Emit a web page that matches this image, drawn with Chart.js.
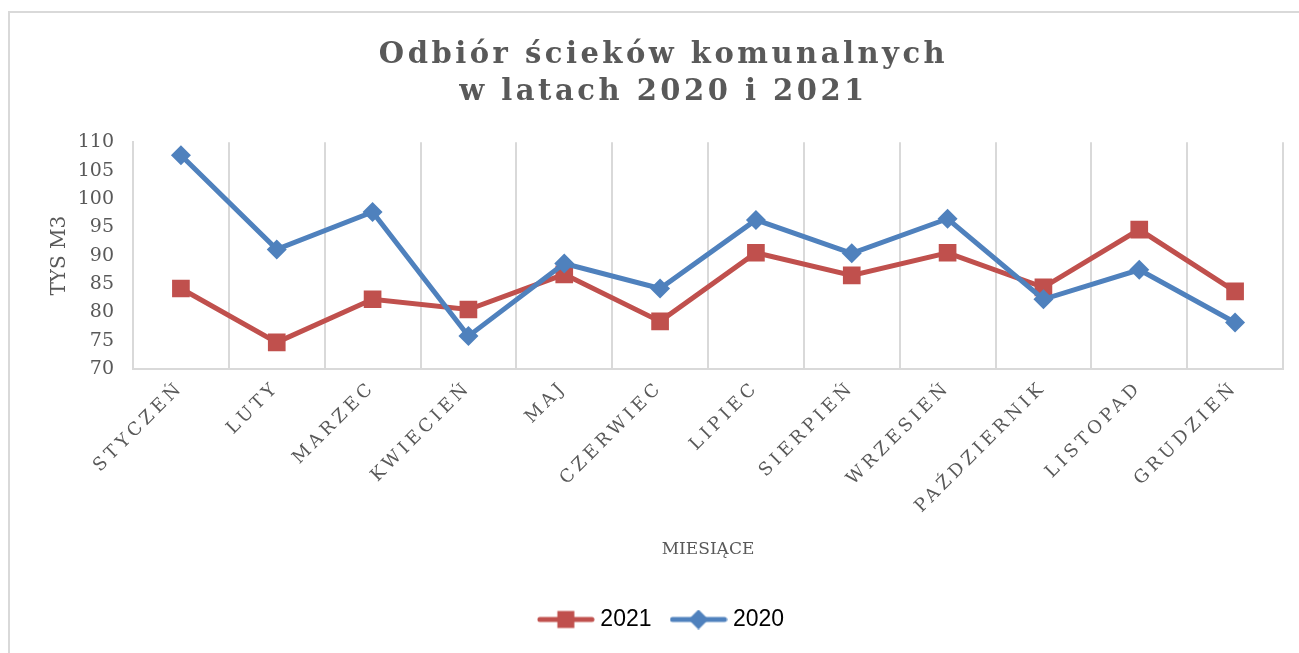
<!DOCTYPE html>
<html lang="pl">
<head>
<meta charset="utf-8">
<title>Odbiór ścieków komunalnych</title>
<script src="https://cdn.jsdelivr.net/npm/chart.js@4"></script>
<style>
  html, body { margin: 0; padding: 0; background: #fff; overflow: hidden; }
  #frame { position: absolute; left: 8px; top: 11px; width: 1330px; height: 700px; border: 2px solid #d9d9d9; }
  #plot { position: absolute; left: 0; top: 0; }
</style>
</head>
<body>
<div id="frame"></div>
<canvas id="plot" width="1299" height="653"></canvas>
<script>
// data (tys. m3)

const months = ['STYCZEŃ', 'LUTY', 'MARZEC', 'KWIECIEŃ', 'MAJ', 'CZERWIEC',
  'LIPIEC', 'SIERPIEŃ', 'WRZESIEŃ', 'PAŹDZIERNIK', 'LISTOPAD', 'GRUDZIEŃ']
const values2021 = [84.2, 74.7, 82.3, 80.5, 86.7, 78.4, 90.5, 86.5, 90.5, 84.4, 94.6, 83.7]
const values2020 = [107.7, 91.1, 97.7, 75.8, 88.6, 84.2, 96.3, 90.4, 96.5, 82.3, 87.5, 78.2]
const titleLines = ['Odbiór ścieków komunalnych', 'w latach 2020 i 2021']

const red = '#c0504d'
const blue = '#4f81bd'
const grey = '#595959'
const serif = "'DejaVu Serif', serif"

// legend symbol: short line with the marker in the middle
function legendSymbol(color, shape) {
  const c = document.createElement('canvas')
  c.width = 58
  c.height = 20
  const ctx = c.getContext('2d')
  ctx.strokeStyle = color
  ctx.fillStyle = color
  ctx.lineWidth = 5
  ctx.lineCap = 'round'
  ctx.beginPath()
  ctx.moveTo(3, 10)
  ctx.lineTo(55, 10)
  ctx.stroke()
  ctx.beginPath()
  if (shape === 'square') {
    ctx.rect(29 - 8.5, 10 - 8.5, 17, 17)
  } else {
    ctx.moveTo(29, 0)
    ctx.lineTo(39, 10)
    ctx.lineTo(29, 20)
    ctx.lineTo(19, 10)
    ctx.closePath()
  }
  ctx.fill()
  return c
}

// canvas letter spacing for the title and the month labels
function addSpacing(box, fn, spacing) {
  if (!box || box['_sp_' + fn]) return
  const orig = box[fn]
  box[fn] = function (...args) {
    this.ctx.save()
    this.ctx.letterSpacing = spacing
    orig.apply(this, args)
    this.ctx.restore()
  }
  box['_sp_' + fn] = true
}

const spacingPlugin = {
  id: 'spacing',
  beforeDraw(chart) {
    addSpacing(chart.titleBlock, 'draw', '3.5px')
    addSpacing(chart.scales.x, 'drawLabels', '4px')
  }
}

const chart = new Chart(
  document.getElementById('plot'),
  {
    type: 'line',
    data: {
      labels: months,
      datasets: [
        {
          label: '2021',
          data: values2021,
          borderColor: red,
          backgroundColor: red,
          borderWidth: 5,
          pointStyle: 'rect',
          pointRadius: 12.5,
          pointBorderWidth: 0,
          order: 1,
        },
        {
          label: '2020',
          data: values2020,
          borderColor: blue,
          backgroundColor: blue,
          borderWidth: 5,
          pointStyle: 'rectRot',
          pointRadius: 10,
          pointBorderWidth: 0,
          order: 0,
        },
      ]
    },
    options: {
      responsive: false,
      animation: false,
      events: [],
      layout: {
        padding: { left: 44, right: 16, top: 37, bottom: 12 }
      },
      plugins: {
        title: {
          display: true,
          text: titleLines,
          color: grey,
          font: { family: serif, size: 29, weight: 'bold', lineHeight: 1.28 },
          padding: { top: 0, bottom: 31 }
        },
        legend: {
          position: 'bottom',
          labels: {
            usePointStyle: true,
            pointStyleWidth: 46,
            boxHeight: 20,
            padding: 24,
            color: '#000',
            font: { family: "'Liberation Sans', sans-serif", size: 23 },
            generateLabels: () => [
              { text: '2021', pointStyle: legendSymbol(red, 'square'), fillStyle: red, strokeStyle: red, lineWidth: 0, hidden: false, datasetIndex: 0 },
              { text: '2020', pointStyle: legendSymbol(blue, 'diamond'), fillStyle: blue, strokeStyle: blue, lineWidth: 0, hidden: false, datasetIndex: 1 },
            ]
          }
        },
        tooltip: { enabled: false }
      },
      scales: {
        x: {
          offset: true,
          grid: { display: true, color: '#d9d9d9', lineWidth: 2, offset: true, drawTicks: false },
          border: { display: true, color: '#d9d9d9', width: 2 },
          ticks: {
            color: grey,
            font: { family: serif, size: 18 },
            minRotation: 45,
            maxRotation: 45,
            padding: 8,
            autoSkip: false
          },
          title: {
            display: true,
            text: 'MIESIĄCE',
            color: grey,
            font: { family: serif, size: 17 },
            padding: { top: 4, bottom: 24 }
          },
          afterFit: (scale) => { scale.height = 215 }
        },
        y: {
          min: 70,
          max: 110,
          grid: { display: false, drawTicks: false },
          border: { display: true, color: '#d9d9d9', width: 2 },
          ticks: {
            stepSize: 5,
            color: grey,
            font: { family: serif, size: 19 },
            padding: 19
          },
          title: {
            display: true,
            text: 'TYS M3',
            color: grey,
            font: { family: serif, size: 20 },
            padding: 4
          },
          afterFit: (scale) => { scale.width = 89 }
        }
      }
    },
    plugins: [spacingPlugin]
  }
)
</script>
</body>
</html>
